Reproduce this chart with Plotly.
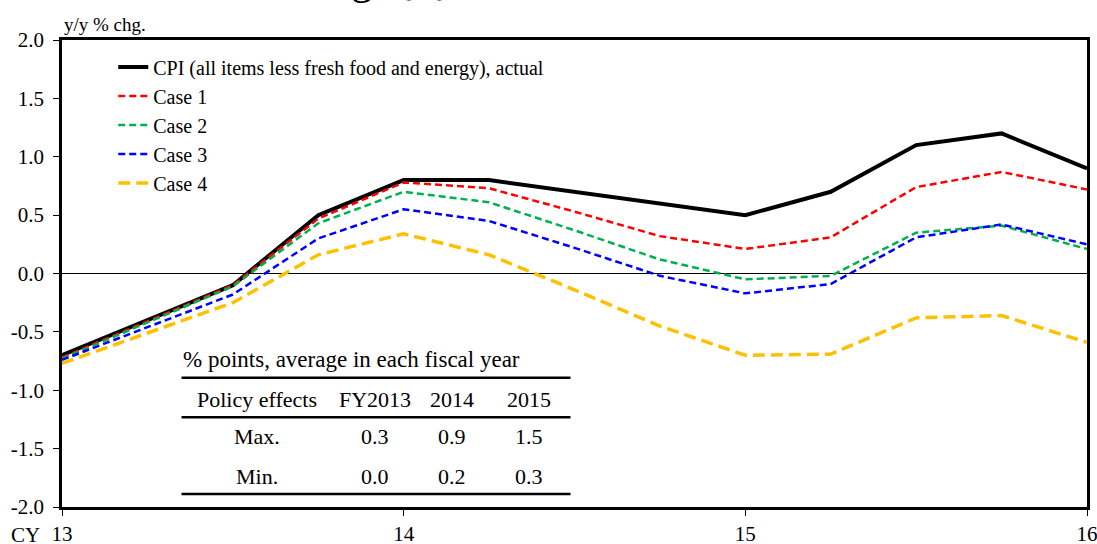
import plotly.graph_objects as go

# quarterly observations, calendar years 2013-2016
quarters = [13.0, 13.25, 13.5, 13.75, 14.0, 14.25, 14.5, 14.75, 15.0, 15.25, 15.5, 15.75, 16.0]

cpi_actual = [-0.70, -0.40, -0.10, 0.50, 0.80, 0.80, 0.70, 0.60, 0.50, 0.70, 1.10, 1.20, 0.90]
case1 = [-0.72, -0.41, -0.10, 0.47, 0.78, 0.73, 0.53, 0.32, 0.21, 0.31, 0.74, 0.87, 0.72]
case2 = [-0.73, -0.42, -0.11, 0.43, 0.70, 0.61, 0.37, 0.12, -0.05, -0.02, 0.35, 0.41, 0.21]
case3 = [-0.74, -0.46, -0.18, 0.30, 0.55, 0.45, 0.22, -0.02, -0.17, -0.09, 0.31, 0.42, 0.25]
case4 = [-0.77, -0.51, -0.25, 0.16, 0.34, 0.16, -0.14, -0.45, -0.70, -0.69, -0.38, -0.36, -0.59]

series_names = ["CPI (all items less fresh food and energy), actual",
                "Case 1", "Case 2", "Case 3", "Case 4"]

y_ticks = [-2.0, -1.5, -1.0, -0.5, 0.0, 0.5, 1.0, 1.5, 2.0]
x_ticks = [13, 14, 15, 16]

# inset table
table_note = "% points, average in each fiscal year"
table_columns = ["Policy effects", "FY2013", "2014", "2015"]
table_rows = ["Max.", "Min."]
effects_max = [0.3, 0.9, 1.5]
effects_min = [0.0, 0.2, 0.3]

FONT = "Liberation Serif"

styles = [
    dict(color="black", width=4, dash="solid"),
    dict(color="#FF0000", width=2.5, dash="7px,4px"),
    dict(color="#00B050", width=2.5, dash="7px,4px"),
    dict(color="#0000FF", width=2.5, dash="7px,4px"),
    dict(color="#FFC000", width=3.5, dash="12px,6px"),
]

fig = go.Figure()
for name, vals, st in zip(series_names, [cpi_actual, case1, case2, case3, case4], styles):
    fig.add_trace(go.Scatter(x=quarters, y=vals, mode="lines", name=name,
                             line=st, legendgroup=name))

fig.update_layout(
    width=1097, height=544,
    margin=dict(l=62, r=10, t=40, b=37, autoexpand=False),
    paper_bgcolor="white", plot_bgcolor="white",
    font=dict(family=FONT, size=21, color="black"),
    showlegend=True,
    legend=dict(x=0.05, y=0.984, xanchor="left", yanchor="top",
                bgcolor="rgba(0,0,0,0)", font=dict(size=20),
                tracegroupgap=0),
)

fig.update_xaxes(range=[13, 16], tickvals=x_ticks, ticktext=[str(t) for t in x_ticks],
                 showgrid=False, zeroline=False, showline=True, linecolor="black",
                 linewidth=2.5, mirror=True, ticks="outside", ticklen=6,
                 tickcolor="black", ticklabelstandoff=0, automargin=False,
                 ticklabeloverflow="allow")
fig.update_yaxes(range=[-2, 2], tickvals=y_ticks, ticktext=[f"{v:.1f}" for v in y_ticks],
                 showgrid=False, zeroline=True, zerolinecolor="black", zerolinewidth=1.2,
                 showline=True, linecolor="black", linewidth=2.5, mirror=True,
                 ticks="outside", ticklen=6, tickcolor="black", ticklabelstandoff=5,
                 automargin=False, ticklabeloverflow="allow")

# units / axis captions
fig.add_annotation(text="y/y % chg.", xref="paper", yref="paper", x=0.0, y=1.034,
                   xanchor="left", yanchor="middle", showarrow=False, font=dict(size=19))
fig.add_annotation(text="CY", xref="paper", yref="paper", x=-0.0356, y=-0.059,
                   xanchor="center", yanchor="middle", showarrow=False, font=dict(size=21))

# page title, mostly cut off at the top edge as in the source slide
fig.add_annotation(text="Assuming QQE had not been introduced", xref="paper", yref="paper",
                   x=0.1346, y=1.075, xanchor="left", yanchor="bottom", showarrow=False,
                   font=dict(size=42))

# inset table
col_x = [0.190, 0.3054, 0.380, 0.456]
head_y, max_y, min_y = 0.231, 0.150, 0.065
fig.add_annotation(text=table_note, xref="paper", yref="paper", x=0.116, y=0.315,
                   xanchor="left", yanchor="middle", showarrow=False, font=dict(size=23))
for cx, label in zip(col_x, table_columns):
    fig.add_annotation(text=label, xref="paper", yref="paper", x=cx, y=head_y,
                       xanchor="center", yanchor="middle", showarrow=False, font=dict(size=22))
for ry, label, vals in zip([max_y, min_y], table_rows, [effects_max, effects_min]):
    cells = [label] + [f"{v:.1f}" for v in vals]
    for cx, cell in zip(col_x, cells):
        fig.add_annotation(text=cell, xref="paper", yref="paper", x=cx, y=ry,
                           xanchor="center", yanchor="middle", showarrow=False,
                           font=dict(size=22))
for ly in [0.277, 0.192, 0.028]:
    fig.add_shape(type="line", xref="paper", yref="paper", x0=0.1166, x1=0.4961,
                  y0=ly, y1=ly, line=dict(color="black", width=2.5))

# drop the default page margin so the figure sits at the window's corner
fig.write_html("out.html", config={"displayModeBar": False},
               post_script="document.body.style.margin='0';")
